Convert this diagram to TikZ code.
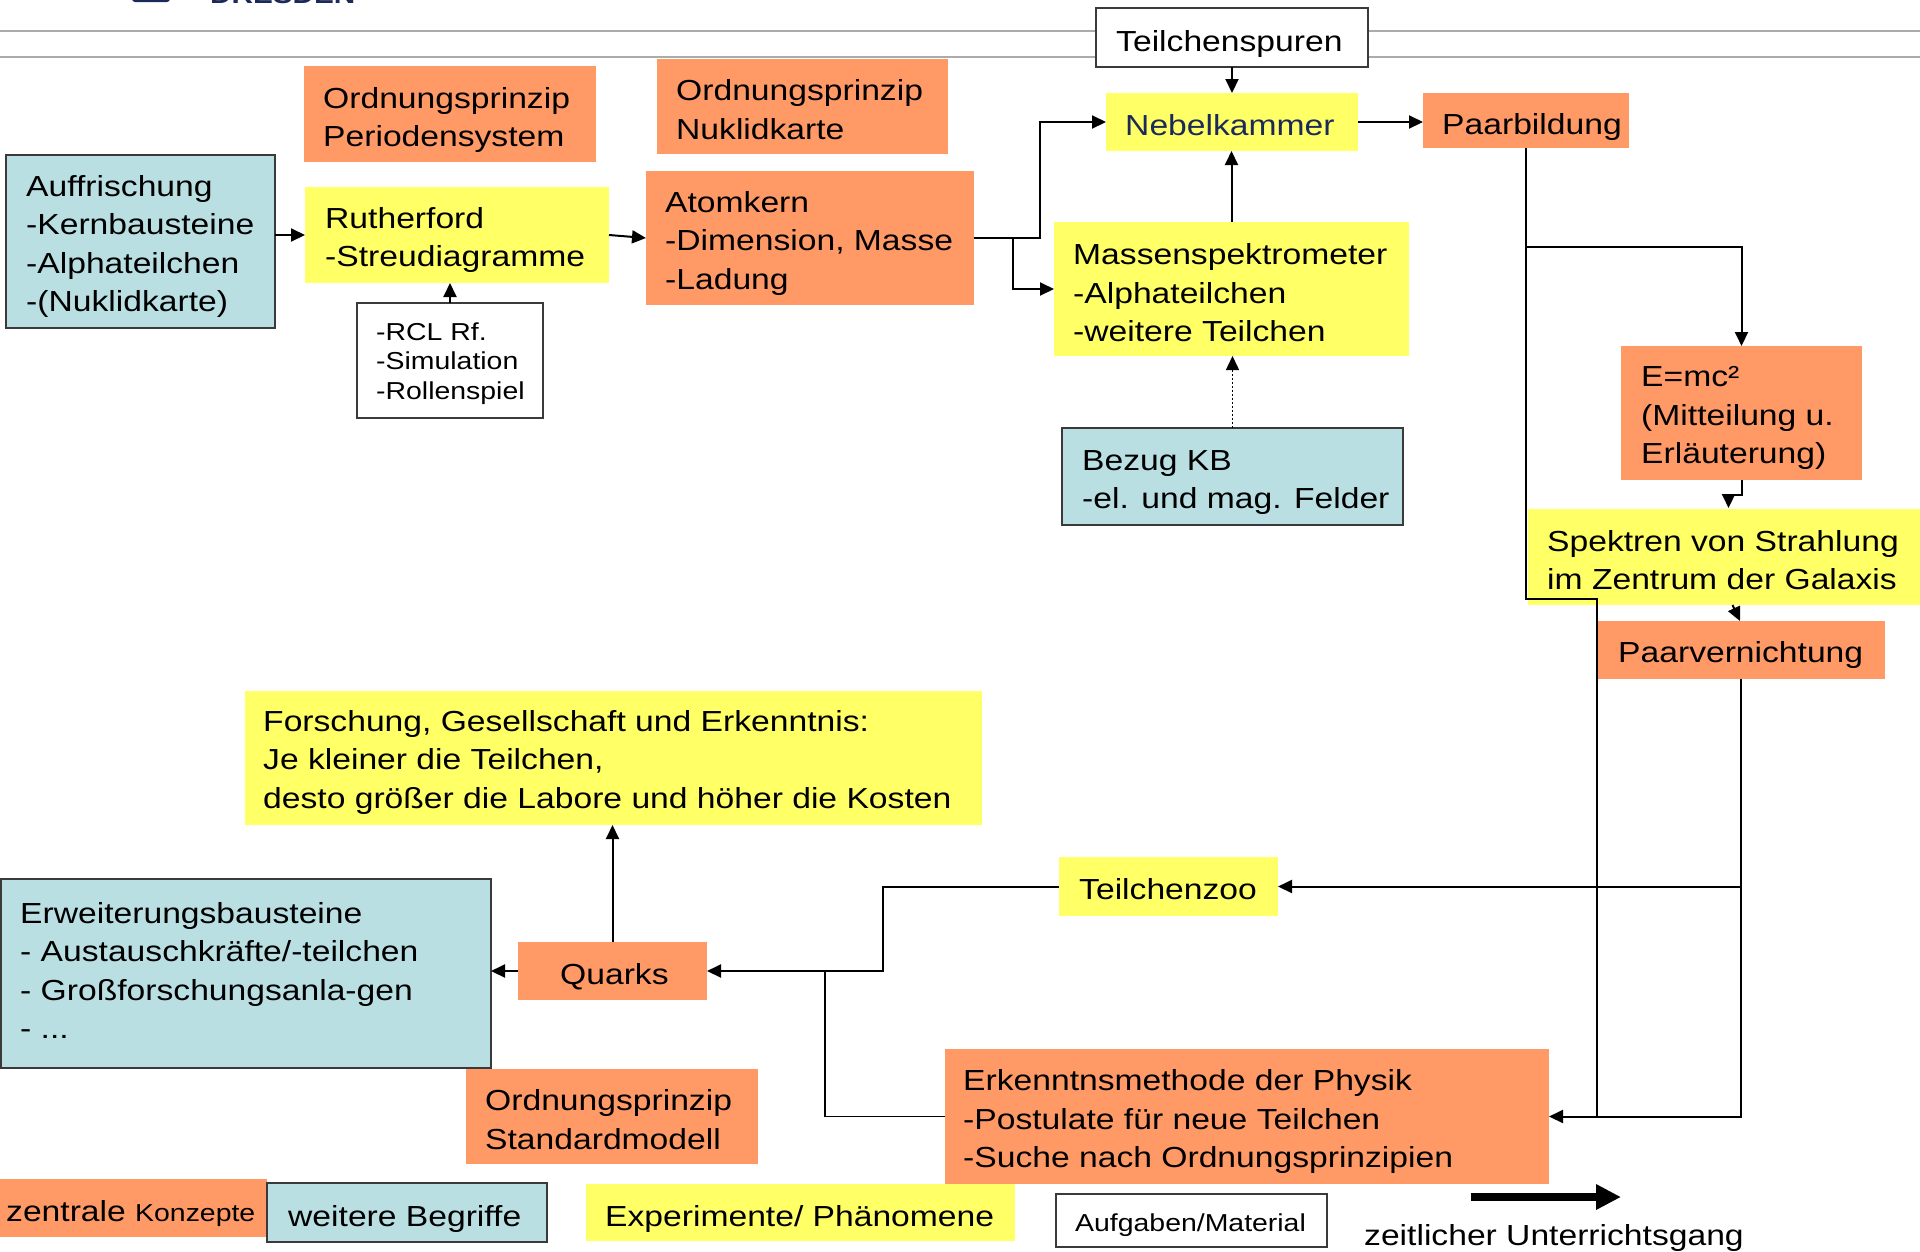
\documentclass[tikz,border=0pt]{standalone}
\usepackage{fontspec}
\setmainfont{Liberation Sans}[FakeStretch=1.16]
\usetikzlibrary{arrows.meta,calc}

\definecolor{orng}{HTML}{FF9966}
\definecolor{yel}{HTML}{FFFF66}
\definecolor{lblu}{HTML}{B9DFE3}
\definecolor{bord}{HTML}{3A3A3A}
\definecolor{navy}{HTML}{1C2A5A}
\definecolor{hdr}{HTML}{ABABAB}

\tikzset{
  ob/.style={fill=orng, draw=none, inner sep=0pt, outer sep=0pt},
  yb/.style={fill=yel, draw=none, inner sep=0pt, outer sep=0pt},
  bb/.style={fill=lblu, draw=bord, line width=1.5pt, inner sep=0pt, outer sep=0pt},
  wb/.style={fill=white, draw=bord, line width=1.5pt, inner sep=0pt, outer sep=0pt},
  txt/.style={inner sep=0pt, align=left, font=\fontsize{29}{38.5}\selectfont},
  stxt/.style={inner sep=0pt, align=left, font=\fontsize{24.5}{29.5}\selectfont},
  conn/.style={draw=black, line width=2pt},
  arr/.style={conn, -{Triangle[length=14pt,width=13pt]}},
}

\newcommand\smtxt{\fontsize{24.5}{29.5}\selectfont}
% box: style, name, left, top, right, bottom, text indent, text drop, text
\newcommand\boxn[9]{%
  \node[#1, anchor=north west, minimum width=#5pt-#3pt, minimum height=#6pt-#4pt] (#2) at (#3,#4) {};
  \node[txt, anchor=west] (#2-t) at ([xshift=#7pt, yshift={-(#8)*1pt}]#2.west) {#9};}
\newcommand\boxsm[9]{%
  \node[#1, anchor=north west, minimum width=#5pt-#3pt, minimum height=#6pt-#4pt] (#2) at (#3,#4) {};
  \node[stxt, anchor=west] (#2-t) at ([xshift=#7pt, yshift={-(#8)*1pt}]#2.west) {#9};}

\begin{document}
\begin{tikzpicture}[x=1pt, y=-1pt]
\useasboundingbox (0,0) rectangle (1920,1251);

% header
\draw[hdr, line width=1.5pt] (0,31) -- (1920,31) (0,57) -- (1920,57);
\fill[navy, rounded corners=3pt] (132,-20) rectangle (170,2);
\node[anchor=base west, inner sep=0pt, font=\bfseries\fontsize{25.6}{30}\selectfont, text=navy] (tud) at (210,3) {DRESDEN};

% boxes
\boxn{wb}{teil}{1096}{8}{1368}{67}{20}{6}{Teilchenspuren}
\boxn{ob}{peri}{304}{66}{596}{162}{19}{6}{Ordnungsprinzip\\Periodensystem}
\boxn{ob}{nukl}{657}{59}{948}{154}{19}{3}{Ordnungsprinzip\\Nuklidkarte}
\boxn{bb}{auff}{6}{155}{275}{328}{20}{5}{Auffrischung\\-Kernbausteine\\-Alphateilchen\\-(Nuklidkarte)}
\boxn{yb}{ruth}{305}{187}{609}{283}{20}{5}{Rutherford\\-Streudiagramme}
\boxsm{wb}{rcl}{357}{303}{543}{418}{19}{3}{-RCL Rf.\\-Simulation\\-Rollenspiel}
\boxn{ob}{atom}{646}{171}{974}{305}{19}{5}{Atomkern\\-Dimension, Masse\\-Ladung}
\boxn{yb}{neb}{1106}{93}{1358}{151}{19}{3}{\color{navy}Nebelkammer}
\boxn{yb}{mass}{1054}{222}{1409}{356}{19}{4}{Massenspektrometer\\-Alphateilchen\\-weitere Teilchen}
\boxn{bb}{bez}{1062}{428}{1403}{525}{20}{6}{Bezug KB\\-el. und mag. Felder}
\boxn{ob}{paarb}{1423}{93}{1629}{148}{19}{6}{Paarbildung}
\boxn{ob}{emc}{1621}{346}{1862}{480}{20}{5}{E=mc²\\(Mitteilung u.\\Erläuterung)}
\boxn{yb}{spek}{1528}{509}{1925}{605}{19}{3}{Spektren von Strahlung\\im Zentrum der Galaxis}
\boxn{ob}{paarv}{1597}{621}{1885}{679}{21}{5}{Paarvernichtung}
\boxn{yb}{forsch}{245}{691}{982}{825}{18}{4}{Forschung, Gesellschaft und Erkenntnis:\\Je kleiner die Teilchen,\\desto größer die Labore und höher die Kosten}
\boxn{yb}{zoo}{1059}{857}{1278}{916}{20}{3}{Teilchenzoo}
\boxn{ob}{quarks}{518}{942}{707}{1000}{42}{6}{Quarks}
\boxn{bb}{erw}{1}{879}{491}{1068}{19}{-3}{Erweiterungsbausteine\\- Austauschkräfte/-teilchen\\- Großforschungsanla-gen\\- ...}
\boxn{ob}{std}{466}{1069}{758}{1164}{19}{3}{Ordnungsprinzip\\Standardmodell}
\boxn{ob}{erk}{945}{1049}{1549}{1184}{18}{5}{Erkenntnsmethode der Physik\\-Postulate für neue Teilchen\\-Suche nach Ordnungsprinzipien}

% connectors
\draw[arr] (auff.east |- ruth.west) -- (ruth.west);
\draw[arr] (ruth.east) -- (atom.west);
\draw[arr] (rcl.north) -- (rcl.north |- ruth.south);
\draw[arr] (teil.south) -- (neb.north);
\draw[arr] (mass.north) -- (mass.north |- neb.south);
\draw[arr] (atom.east) -- ++(66,0) |- (neb.west);
\draw[arr] (atom.east) -- ++(39,0) |- (mass.west);
\draw[arr, dotted, line width=1.5pt] (bez.north) -- (bez.north |- mass.south);
\draw[arr] (neb.east) -- (neb.east -| paarb.west);
\path (paarb.south) ++(0,99) coordinate (pb1);
\path (paarb.south) ++(0,451) coordinate (pb2);
\draw[conn] (paarb.south) -- (pb2) -| (paarv.west |- erk.east);
\draw[arr] (pb1) -| (emc.north);
\path (emc.south) ++(0,15) coordinate (em1);
\draw[arr] (emc.south) -- (em1) -- ++(-13,0) -- ++(0,13);
\draw[arr] ([xshift=6pt]spek.south) -- ([xshift=-1pt]paarv.north);
\draw[arr] (paarv.south) |- (erk.east);
\draw[arr] (paarv.south |- zoo.east) -- (zoo.east);
\draw[arr] (zoo.west) -- ++(-176,0) |- (quarks.east);
\path (quarks.east) ++(118,0) coordinate (q1);
\draw[conn, line width=1.5pt] (erk.west) -| (q1);
\draw[arr] (quarks.west) -- (quarks.west -| erw.east);
\draw[arr] (quarks.north) -- (quarks.north |- forsch.south);

% legend
\boxn{ob}{lk}{0}{1179}{267}{1237}{6}{6}{zentrale {\smtxt Konzepte}}
\boxn{bb}{lb}{267}{1183}{547}{1242}{21}{6}{weitere Begriffe}
\boxn{yb}{ly}{586}{1184}{1015}{1241}{19}{6}{Experimente/ Phänomene}
\boxsm{wb}{la}{1056}{1194}{1327}{1247}{19}{5}{Aufgaben/Material}
\coordinate (tg0) at (1471,1197);
\coordinate (tg1) at (1621,1197);
\draw[line width=8pt, -{Triangle[length=25pt,width=24pt]}] (tg0) -- (tg1);
\node[txt, anchor=base west] (zug) at (1364,1245) {zeitlicher Unterrichtsgang};
\end{tikzpicture}
\end{document}
